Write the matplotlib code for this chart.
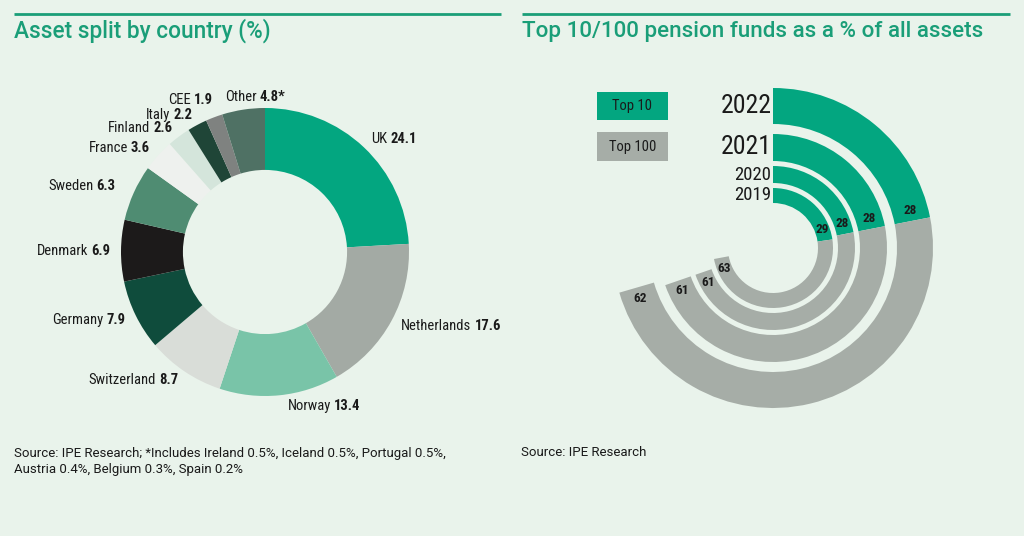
import numpy as np
import matplotlib.pyplot as plt
from matplotlib.patches import Rectangle

# --- data ---
countries = ["UK", "Netherlands", "Norway", "Switzerland", "Germany", "Denmark",
             "Sweden", "France", "Finland", "Italy", "CEE", "Other"]
shares = [24.1, 17.6, 13.4, 8.7, 7.9, 6.9, 6.3, 3.6, 2.6, 2.2, 1.9, 4.8]
share_txt = ["24.1", "17.6", "13.4", "8.7", "7.9", "6.9", "6.3", "3.6", "2.6", "2.2", "1.9", "4.8*"]
country_colors = ["#03a680", "#a3aaa4", "#79c4a8", "#d9ddd8", "#0f4c3c", "#1c1a1a",
                  "#4f8c72", "#eef1ee", "#d4e5db", "#1f4537", "#7f8280", "#4f7164"]

years = ["2022", "2021", "2020", "2019"]
top10 = [28, 28, 28, 29]
top100 = [62, 61, 61, 63]

BG = "#e9f3eb"
GREEN = "#03a680"
GREY = "#a6ada7"
TITLE = "#1a9e78"
INK = "#1a1a1a"
COND = ["Roboto Condensed", "Liberation Sans Narrow", "DejaVu Sans"]
SANS = ["Roboto", "DejaVu Sans"]
STRETCH = "condensed"

fig = plt.figure(figsize=(10.24, 5.36), dpi=100, facecolor=BG)
renderer = fig.canvas.get_renderer()

# pixel-space overlay for titles, notes and labels
bg = fig.add_axes([0, 0, 1, 1])
bg.set_xlim(0, 1024)
bg.set_ylim(536, 0)
bg.axis("off")

bg.plot([14, 501], [14, 14], color=TITLE, lw=2, solid_capstyle="butt")
bg.plot([522, 1010], [14, 14], color=TITLE, lw=2, solid_capstyle="butt")
bg.text(14, 31, "Asset split by country (%)", fontsize=16.3, family=SANS,
        color=TITLE, va="center", ha="left", weight="medium")
bg.text(522, 31, "Top 10/100 pension funds as a % of all assets", fontsize=16.1,
        family=SANS, color=TITLE, va="center", ha="left", weight="medium")

bg.text(14, 453, "Source: IPE Research; *Includes Ireland 0.5%, Iceland 0.5%, Portugal 0.5%,",
        fontsize=9.5, family=SANS, color=INK, va="center")
bg.text(14, 469, "Austria 0.4%, Belgium 0.3%, Spain 0.2%",
        fontsize=9.5, family=SANS, color=INK, va="center")
bg.text(521, 453, "Source: IPE Research", fontsize=9.5, family=SANS, color=INK, va="center")

# --- left: donut ---
cx, cy, R = 265, 252, 144
ax = fig.add_axes([(cx - R) / 1024, (536 - cy - R) / 536, 2 * R / 1024, 2 * R / 536])
ax.pie(shares, colors=country_colors, startangle=90, counterclock=False,
       wedgeprops=dict(width=0.43, linewidth=0))
ax.set_xlim(-1, 1)
ax.set_ylim(-1, 1)
ax.set_aspect("equal")
ax.axis("off")


def two_part(x, y, name, value, ha, fs=10.5):
    t1 = bg.text(0, y, name, fontsize=fs, family=COND, fontstretch=STRETCH,
                 va="center", color=INK)
    t2 = bg.text(0, y, value, fontsize=fs, family=COND, fontstretch=STRETCH,
                 weight="bold", va="center", color=INK)
    w1 = t1.get_window_extent(renderer).width
    w2 = t2.get_window_extent(renderer).width
    gap = 3
    total = w1 + gap + w2
    if ha == "left":
        x0 = x
    elif ha == "right":
        x0 = x - total
    else:
        x0 = x - total / 2
    t1.set_x(x0)
    t2.set_x(x0 + w1 + gap)


# label nudges (ha, dx, dy)
nudge = {"Other": ("left", -17, -2), "CEE": ("right", 3, -7),
         "Sweden": ("right", -8, -2), "Norway": ("left", 7, 0)}
cum = np.cumsum([0] + shares[:-1])
for name, val, start, txt in zip(countries, shares, cum, share_txt):
    a = np.deg2rad((start + val / 2) * 3.6)
    lx = cx + 155 * np.sin(a)
    ly = cy - 155 * np.cos(a)
    ha = "left" if np.sin(a) > 0 else "right"
    dx, dy = 0, 0
    if name in nudge:
        ha, dx, dy = nudge[name]
    two_part(lx + dx, ly + dy, name, txt, ha)

# --- right: radial bars ---
deg_per_pct = 2.82
ring_in = [124, 87, 65, 45]
ring_out = [160, 114, 82, 60]
year_fs = [18.5, 18.5, 13.5, 13.5]
pcx, pcy, PR = 773, 248, 170
pax = fig.add_axes([(pcx - PR) / 1024, (536 - pcy - PR) / 536, 2 * PR / 1024, 2 * PR / 536],
                   projection="polar")
pax.set_theta_zero_location("N")
pax.set_theta_direction(-1)
pax.set_rlim(0, PR)
pax.set_axis_off()

for i in range(len(years)):
    t10 = np.deg2rad(top10[i] * deg_per_pct)
    t100 = np.deg2rad(top100[i] * deg_per_pct)
    h = ring_out[i] - ring_in[i]
    rm = (ring_out[i] + ring_in[i]) / 2
    pax.bar(0, h, width=t10, bottom=ring_in[i], align="edge", color=GREEN, linewidth=0)
    pax.bar(t10, h, width=t100, bottom=ring_in[i], align="edge", color=GREY, linewidth=0)
    d = 11 / rm
    pax.text(t10 - d, rm, str(top10[i]), fontsize=9.5, family=COND, fontstretch=STRETCH,
             weight="bold", color=INK, ha="center", va="center")
    pax.text(t10 + t100 - d, rm, str(top100[i]), fontsize=9.5, family=COND,
             fontstretch=STRETCH, weight="bold", color=INK, ha="center", va="center")
    pax.annotate(years[i], xy=(0, rm), xytext=(-1, 0), textcoords="offset points",
                 fontsize=year_fs[i], family=COND, fontstretch=STRETCH, color=INK,
                 ha="right", va="center")

# legend boxes
bg.add_patch(Rectangle((597, 92), 71, 28, color=GREEN, lw=0))
bg.add_patch(Rectangle((597, 132), 71, 29, color=GREY, lw=0))
bg.text(632.5, 106, "Top 10", fontsize=10.5, family=COND, fontstretch=STRETCH,
        color=INK, ha="center", va="center")
bg.text(632.5, 146.5, "Top 100", fontsize=10.5, family=COND, fontstretch=STRETCH,
        color=INK, ha="center", va="center")

fig.savefig("out.png", dpi=100, facecolor=BG)
